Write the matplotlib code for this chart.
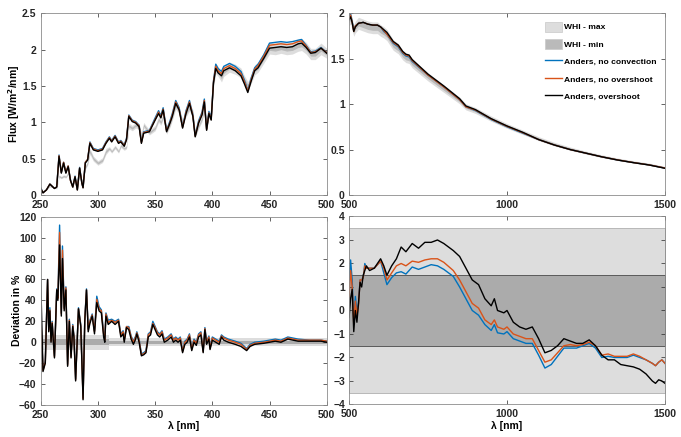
import numpy as np
import matplotlib
matplotlib.use('Agg')
import matplotlib.pyplot as plt

# --- flux, 250-500 nm [W/m^2/nm]
wl_uv = [250, 252, 255, 258, 262, 264, 266, 268, 270, 272, 274, 276, 278, 280, 282, 284, 286, 287, 289, 291,
         293, 296, 300, 304, 307, 310, 312, 315, 318, 320, 323, 325, 327, 330, 333, 336, 338, 340, 345, 350,
         353, 355, 357, 360, 363, 365, 368, 371, 374, 377, 380, 383, 385, 388, 391, 393, 395, 397, 399, 401,
         403, 405, 408, 410, 415, 420, 425, 428, 431, 434, 437, 440, 445, 450, 455, 460, 465, 470, 475, 478,
         482, 486, 490, 495, 500]
whi_uv = [0.07, 0.04, 0.08, 0.12, 0.10, 0.09, 0.26, 0.24, 0.26, 0.25, 0.30, 0.18, 0.10, 0.24, 0.10, 0.30, 0.20, 0.22, 0.38, 0.44,
          0.60, 0.50, 0.44, 0.48, 0.60, 0.64, 0.60, 0.66, 0.60, 0.68, 0.64, 0.66, 0.95, 0.92, 0.96, 0.94, 0.82, 0.96, 0.86, 0.92,
          1.04, 1.00, 1.08, 0.87, 0.97, 1.07, 1.23, 1.16, 1.00, 1.12, 1.20, 1.13, 0.82, 0.95, 1.05, 1.20, 0.92, 1.10, 1.08, 1.54,
          1.74, 1.70, 1.62, 1.70, 1.76, 1.73, 1.68, 1.58, 1.50, 1.60, 1.72, 1.76, 1.89, 2.02, 2.01, 2.03, 2.01, 2.02, 2.06, 2.07,
          2.02, 1.94, 1.94, 2.01, 1.95]
noconv_uv = [0.10, 0.03, 0.07, 0.15, 0.09, 0.11, 0.55, 0.31, 0.45, 0.31, 0.40, 0.21, 0.11, 0.26, 0.07, 0.38, 0.16, 0.10, 0.45, 0.49,
             0.73, 0.64, 0.62, 0.64, 0.73, 0.80, 0.75, 0.82, 0.73, 0.75, 0.69, 0.78, 1.10, 1.03, 1.01, 0.96, 0.73, 0.87, 0.89, 1.06,
             1.16, 1.09, 1.20, 0.89, 1.02, 1.12, 1.30, 1.20, 0.94, 1.16, 1.30, 1.10, 0.82, 1.02, 1.14, 1.32, 0.91, 1.15, 1.06, 1.57,
             1.80, 1.74, 1.70, 1.77, 1.81, 1.77, 1.70, 1.58, 1.44, 1.61, 1.75, 1.80, 1.93, 2.09, 2.10, 2.11, 2.10, 2.11, 2.13, 2.14,
             2.06, 1.97, 1.98, 2.03, 1.96]
noover_uv = [0.09, 0.03, 0.07, 0.15, 0.09, 0.11, 0.54, 0.31, 0.45, 0.31, 0.40, 0.20, 0.11, 0.25, 0.07, 0.37, 0.16, 0.10, 0.45, 0.49,
             0.72, 0.63, 0.61, 0.63, 0.72, 0.79, 0.74, 0.81, 0.72, 0.74, 0.68, 0.77, 1.09, 1.02, 1.00, 0.95, 0.72, 0.86, 0.88, 1.04,
             1.14, 1.07, 1.18, 0.88, 1.00, 1.10, 1.28, 1.18, 0.93, 1.14, 1.28, 1.09, 0.81, 1.00, 1.12, 1.30, 0.90, 1.13, 1.04, 1.56,
             1.77, 1.71, 1.67, 1.74, 1.78, 1.74, 1.67, 1.56, 1.43, 1.59, 1.73, 1.78, 1.91, 2.06, 2.07, 2.08, 2.07, 2.08, 2.11, 2.12,
             2.05, 1.96, 1.97, 2.02, 1.96]
over_uv = [0.09, 0.03, 0.07, 0.15, 0.09, 0.11, 0.53, 0.30, 0.44, 0.30, 0.39, 0.20, 0.11, 0.25, 0.07, 0.37, 0.16, 0.10, 0.44, 0.48,
           0.71, 0.62, 0.60, 0.62, 0.71, 0.78, 0.73, 0.80, 0.71, 0.73, 0.67, 0.76, 1.08, 1.01, 0.99, 0.94, 0.71, 0.85, 0.87, 1.03,
           1.12, 1.06, 1.17, 0.87, 0.99, 1.08, 1.26, 1.17, 0.92, 1.12, 1.26, 1.08, 0.80, 0.99, 1.10, 1.28, 0.89, 1.12, 1.03, 1.54,
           1.74, 1.68, 1.64, 1.71, 1.75, 1.71, 1.64, 1.53, 1.41, 1.57, 1.71, 1.75, 1.88, 2.02, 2.03, 2.04, 2.03, 2.04, 2.08, 2.09,
           2.03, 1.95, 1.96, 2.02, 1.95]

# --- flux, 500-1500 nm
wl_vis = [500, 505, 510, 515, 520, 530, 545, 560, 575, 590, 600, 610, 620, 640, 656, 670, 680, 690, 700, 750,
          800, 850, 870, 900, 950, 1000, 1050, 1100, 1150, 1200, 1250, 1300, 1350, 1400, 1450, 1500]
whi_vis = [1.93, 1.95, 1.88, 1.81, 1.85, 1.89, 1.87, 1.85, 1.84, 1.84, 1.81, 1.79, 1.76, 1.65, 1.61, 1.54, 1.51, 1.50, 1.45, 1.30,
           1.17, 1.04, 0.97, 0.93, 0.84, 0.76, 0.69, 0.62, 0.56, 0.51, 0.466, 0.427, 0.393, 0.364, 0.339, 0.303]
noconv_vis = [1.95, 1.99, 1.91, 1.81, 1.86, 1.89, 1.90, 1.88, 1.87, 1.87, 1.85, 1.80, 1.77, 1.67, 1.63, 1.56, 1.53, 1.52, 1.47, 1.32,
              1.19, 1.05, 0.97, 0.93, 0.83, 0.75, 0.68, 0.61, 0.55, 0.50, 0.46, 0.42, 0.385, 0.357, 0.331, 0.296]
noover_vis = [1.94, 1.98, 1.90, 1.80, 1.86, 1.89, 1.90, 1.88, 1.87, 1.87, 1.85, 1.81, 1.77, 1.68, 1.64, 1.57, 1.54, 1.53, 1.48, 1.32,
              1.19, 1.05, 0.97, 0.935, 0.835, 0.755, 0.685, 0.61, 0.55, 0.50, 0.46, 0.42, 0.386, 0.357, 0.331, 0.297]
over_vis = [1.93, 1.96, 1.90, 1.80, 1.85, 1.89, 1.90, 1.88, 1.87, 1.87, 1.85, 1.82, 1.79, 1.69, 1.65, 1.58, 1.55, 1.54, 1.49, 1.33,
            1.20, 1.06, 0.98, 0.94, 0.84, 0.76, 0.69, 0.61, 0.55, 0.50, 0.46, 0.42, 0.385, 0.356, 0.33, 0.294]

# --- deviation from WHI in %, 250-500 nm
wl_dev_uv = [250, 252, 254, 256, 257, 258, 259, 260, 262, 264, 265, 266.5, 268, 269, 270.5, 272, 273.5, 275, 276.5, 278,
             279, 280.5, 283, 285, 287, 288.5, 290, 291.5, 293, 295, 297, 299, 301, 303, 305, 306, 307, 309, 312, 315,
             318, 320, 322, 323, 325, 327, 329, 331, 333, 334, 336, 338, 340, 342, 344, 346, 348, 350, 352, 354,
             356, 358, 361, 364, 366, 368, 370, 372, 374, 376, 378, 380, 382, 384, 386, 388, 390, 392, 393.5, 395,
             397, 398, 400, 403, 406, 408, 410, 414, 420, 425, 430, 433, 437, 445, 455, 460, 466, 475, 485, 495, 500]
dev_noconv_uv = [25, -26, -18, 60, 12, 33, 2, 20, -13, 51, 44, 112, 28, 92, 33, 53, -21, 22, -13, 17,
                 7, -35, 33, 17, -53, 22, 51, 13, 21, 27, 11, 44, 34, 31, 9, 3, 28, 21, 22, 20,
                 22, 8, 11, 3, 15, 15, 6, 1, 6, 10, 3, -11, -10, -8, 8, 10, 20, 15, 10, 8,
                 11, 3, 5, 8, 3, 5, 3, 5, -8, 1, 3, 8, -6, 3, 0, 8, 10, -8, 14, 1,
                 6, -5, 5, 3, 1, 7, 5, 3, 1, -1, -6, -2, 0, 1, 3, 2, 5, 3, 2, 2, 1]
dev_noover_uv = [27, -27, -19, 60, 11, 31, 1, 19, -14, 50, 42, 105, 27, 88, 32, 52, -22, 21, -14, 16,
                 6, -36, 32, 16, -54, 21, 50, 12, 20, 26, 10, 41, 32, 30, 7, 2, 27, 19, 21, 19,
                 21, 7, 10, 2, 15, 14, 5, 0, 5, 9, 2, -12, -11, -9, 7, 9, 18, 14, 9, 7,
                 10, 2, 4, 7, 2, 4, 2, 4, -9, 0, 2, 7, -7, 2, -1, 7, 9, -9, 13, 0,
                 5, -6, 4, 2, 0, 6, 4, 2, 0, -2, -7, -3, -1, 0, 2, 1, 4, 2, 2, 2, 1]
dev_over_uv = [60, -28, -20, 60, 10, 30, 0, 18, -15, 50, 40, 93, 25, 80, 30, 50, -23, 20, -15, 15,
               5, -37, 32, 15, -55, 20, 50, 10, 18, 25, 8, 38, 30, 28, 5, 0, 25, 17, 20, 17,
               20, 5, 8, 0, 14, 12, 3, -2, 3, 8, 0, -13, -12, -10, 5, 7, 17, 12, 7, 5,
               8, 0, 2, 5, 0, 2, 0, 2, -10, -2, 0, 5, -8, 0, -3, 5, 7, -10, 12, -2,
               3, -7, 2, 0, -2, 5, 2, 0, -2, -4, -8, -4, -2, -1, 1, 0, 3, 1, 1, 1, 0]

# --- deviation from WHI in %, 500-1500 nm
wl_dev_vis = [500, 505, 510, 515, 520, 525, 530, 535, 540, 545, 550, 555, 565, 580, 600, 610, 620, 635, 650, 665,
              680, 700, 720, 740, 760, 780, 800, 830, 850, 870, 890, 910, 930, 950, 960, 970, 990, 1000, 1020, 1040,
              1060, 1080, 1100, 1120, 1140, 1160, 1180, 1200, 1220, 1240, 1260, 1280, 1300, 1320, 1340, 1360, 1380, 1400, 1420, 1440,
              1460, 1470, 1480, 1490, 1500]
dev_noconv_vis = [1.2, 2.15, 1.3, -0.4, 0.6, 0, 0.3, 1.3, 1.3, 1.4, 2.0, 1.8, 1.8, 1.8, 2.1, 1.6, 1.1, 1.4, 1.6, 1.65,
                  1.55, 1.85, 1.75, 1.85, 1.95, 1.9, 1.75, 1.45, 1.0, 0.5, 0.0, -0.2, -0.6, -0.85, -0.6, -0.95, -1.0, -0.9, -1.2, -1.3,
                  -1.4, -1.4, -1.9, -2.45, -2.3, -1.95, -1.6, -1.6, -1.6, -1.5, -1.4, -1.6, -2.0, -1.95, -2.0, -2.0, -2.0, -1.9, -2.0, -2.1,
                  -2.25, -2.35, -2.2, -2.1, -2.25]
dev_noover_vis = [0.6, 1.7, 1.0, -0.6, 0.4, -0.2, 0.2, 1.3, 1.3, 1.4, 1.9, 1.8, 1.8, 1.8, 2.1, 1.8, 1.3, 1.6, 1.9, 2.0,
                  1.9, 2.1, 2.05, 2.15, 2.2, 2.2, 2.05, 1.7, 1.3, 0.8, 0.3, 0.1, -0.4, -0.6, -0.4, -0.7, -0.8, -0.7, -1.0, -1.1,
                  -1.2, -1.2, -1.7, -2.2, -2.1, -1.8, -1.5, -1.45, -1.5, -1.45, -1.35, -1.5, -1.9, -1.85, -1.95, -1.95, -1.95, -1.85, -1.95, -2.1,
                  -2.25, -2.35, -2.2, -2.1, -2.25]
dev_over_vis = [-0.3, 0.5, 0.9, -0.9, 0, -0.5, 0.3, 1.2, 1.0, 1.5, 1.7, 1.9, 1.7, 1.8, 2.2, 1.9, 1.5, 1.9, 2.2, 2.7,
                2.5, 2.85, 2.65, 2.9, 2.9, 3.0, 2.85, 2.55, 2.3, 1.8, 1.3, 1.1, 0.5, 0.2, 0.5, 0, -0.1, 0, -0.5, -0.7,
                -0.8, -0.7, -1.2, -1.8, -1.7, -1.5, -1.2, -1.3, -1.4, -1.4, -1.25, -1.5, -1.9, -2.1, -2.1, -2.3, -2.35, -2.4, -2.5, -2.7,
                -3.0, -3.1, -2.95, -3.0, -3.1]

# WHI uncertainty (percent) per wavelength segment
unc_edges = [250, 310, 500, 1500]
unc_max = [7.0, 4.0, 3.5]
unc_min = [3.0, 1.5, 1.5]

labels = ['WHI - max', 'WHI - min', 'Anders, no convection', 'Anders, no overshoot', 'Anders, overshoot']
c_light = '#dddddd'
c_dark = '#bababa'
c_dark_dev = '#ababab'
c_blue = '#0072BD'
c_orange = '#D95319'
c_black = 'k'

plt.rcParams['font.family'] = ['Liberation Sans', 'DejaVu Sans']
plt.rcParams['font.weight'] = 'bold'
plt.rcParams['axes.labelweight'] = 'bold'
plt.rcParams['font.size'] = 7.5


def unc_at(wl, vals):
    idx = np.searchsorted(unc_edges, np.asarray(wl, float), side='right') - 1
    idx = np.clip(idx, 0, len(vals) - 1)
    return np.array(vals)[idx]


def unc_steps(lo, hi, vals):
    xs, ys = [], []
    for i in range(len(vals)):
        a, b = unc_edges[i], unc_edges[i + 1]
        if b <= lo or a >= hi:
            continue
        xs += [max(a, lo), min(b, hi)]
        ys += [vals[i], vals[i]]
    return np.array(xs), np.array(ys)


def style(ax):
    ax.tick_params(direction='in', length=3, width=0.5, top=True, right=True, colors='#262626')
    ax.tick_params(axis='x', pad=3.5)
    ax.tick_params(axis='y', pad=3)
    for s in ax.spines.values():
        s.set_color('#8c8c8c')
        s.set_linewidth(0.6)


def flux_panel(ax, wl, whi, m1, m2, m3):
    wl = np.array(wl)
    whi = np.array(whi)
    umax = unc_at(wl, unc_max) / 100
    umin = unc_at(wl, unc_min) / 100
    h1 = ax.fill_between(wl, whi * (1 - umax), whi * (1 + umax), color=c_light, lw=0)
    h2 = ax.fill_between(wl, whi * (1 - umin), whi * (1 + umin), color=c_dark, lw=0)
    l1, = ax.plot(wl, m1, color=c_blue, lw=1.0)
    l2, = ax.plot(wl, m2, color=c_orange, lw=1.0)
    l3, = ax.plot(wl, m3, color=c_black, lw=1.0)
    return [h1, h2, l1, l2, l3]


def dev_panel(ax, lo, hi, wl, d1, d2, d3, edge_light, edge_dark):
    xs, ym = unc_steps(lo, hi, unc_max)
    ax.fill_between(xs, -ym, ym, facecolor=c_light, edgecolor=edge_light, lw=0.6)
    xs, yn = unc_steps(lo, hi, unc_min)
    ax.fill_between(xs, -yn, yn, facecolor=c_dark_dev, edgecolor=edge_dark, lw=0.7)
    ax.plot(wl, d1, color=c_blue, lw=1.0)
    ax.plot(wl, d2, color=c_orange, lw=1.0)
    ax.plot(wl, d3, color=c_black, lw=1.0)


fig = plt.figure(figsize=(6.81, 4.37), dpi=100)
ax1 = fig.add_axes([0.0598, 0.5538, 0.4200, 0.4158])
ax2 = fig.add_axes([0.5125, 0.5538, 0.4640, 0.4158])
ax3 = fig.add_axes([0.0598, 0.0732, 0.4200, 0.4309])
ax4 = fig.add_axes([0.5125, 0.0744, 0.4640, 0.4302])

flux_panel(ax1, wl_uv, whi_uv, noconv_uv, noover_uv, over_uv)
ax1.set_xlim(250, 500)
ax1.set_ylim(0, 2.5)
ax1.set_xticks([250, 300, 350, 400, 450, 500])
ax1.set_yticks([0, 0.5, 1, 1.5, 2, 2.5])
ax1.set_yticklabels(['0', '0.5', '1', '1.5', '2', '2.5'])
ax1.set_ylabel('Flux [W/m$^\\mathbf{2}$/nm]', labelpad=0)

handles = flux_panel(ax2, wl_vis, whi_vis, noconv_vis, noover_vis, over_vis)
ax2.set_xlim(500, 1500)
ax2.set_ylim(0, 2)
ax2.set_xticks([500, 1000, 1500])
ax2.set_yticks([0, 0.5, 1, 1.5, 2])
ax2.set_yticklabels(['0', '0.5', '1', '1.5', '2'])
leg = ax2.legend(handles, labels, loc='upper right', frameon=False, handlelength=2.0,
                 handleheight=1.4, labelspacing=0.9, handletextpad=0.25, borderaxespad=0.6,
                 prop={'weight': 'bold', 'size': 6.1})
for p in leg.get_patches():
    p.set_edgecolor('#c8c8c8')
    p.set_linewidth(0.5)

dev_panel(ax3, 250, 500, wl_dev_uv, dev_noconv_uv, dev_noover_uv, dev_over_uv, 'none', 'none')
ax3.set_xlim(250, 500)
ax3.set_ylim(-60, 120)
ax3.set_xticks([250, 300, 350, 400, 450, 500])
ax3.set_yticks(np.arange(-60, 121, 20))
ax3.set_ylabel('Deviation in %', labelpad=-2)
ax3.set_xlabel('λ [nm]', labelpad=1)

dev_panel(ax4, 500, 1500, wl_dev_vis, dev_noconv_vis, dev_noover_vis, dev_over_vis, '#b0b0b0', '#5a5a5a')
ax4.set_xlim(500, 1500)
ax4.set_ylim(-4, 4)
ax4.set_xticks([500, 1000, 1500])
ax4.set_yticks(np.arange(-4, 5, 1))
ax4.set_xlabel('λ [nm]', labelpad=1)

for ax in (ax1, ax2, ax3, ax4):
    style(ax)

fig.savefig('out.png', dpi=100)
